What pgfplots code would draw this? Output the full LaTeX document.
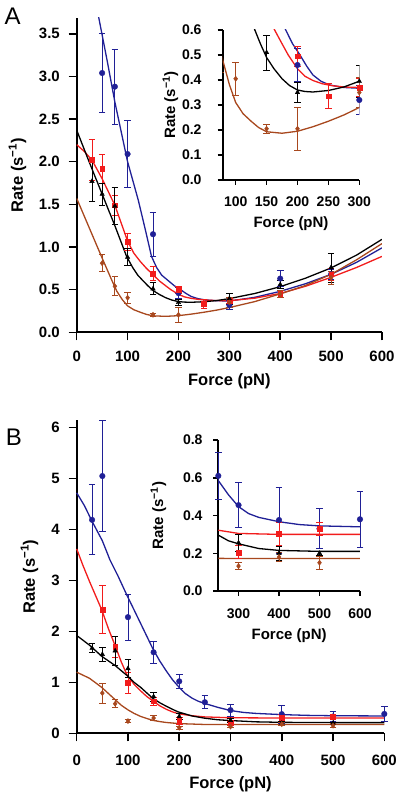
\documentclass[border=0pt]{standalone}
\usepackage{fontspec}
\setmainfont{Liberation Sans}
\usepackage{pgfplots}
\usepackage{pgfplotstable}
\pgfplotsset{compat=1.18}
\definecolor{cblue}{RGB}{32,32,150}
\definecolor{cred}{RGB}{242,28,28}
\definecolor{cbrown}{RGB}{168,72,30}

% ---------- Panel A data ----------
\pgfplotstableread{
F R E
50 3.04 0.46
75 2.88 0.44
100 2.09 0.39
150 1.15 0.26
200 0.46 0.065
300 0.32 0.057
400 0.63 0.09
500 0.68 0.06
}\Ablue
\pgfplotstableread{
F R E
30 2.02 0.245
50 1.92 0.17
75 1.49 0.12
100 1.06 0.10
150 0.69 0.085
200 0.495 0.04
250 0.335 0.05
300 0.37 0.035
400 0.45 0.04
500 0.68 0.07
}\Ared
\pgfplotstableread{
F R E
30 1.77 0.24
50 1.62 0.13
75 1.48 0.22
100 0.88 0.10
150 0.51 0.07
200 0.35 0.04
300 0.395 0.065
400 0.56 0.05
500 0.76 0.17
}\Ablack
\pgfplotstableread{
F R E
50 0.81 0.10
75 0.54 0.11
100 0.405 0.065
150 0.205 0.017
200 0.205 0.085
300 0.35 0.06
400 0.45 0.04
500 0.64 0.075
}\Abrown
% fitted curves, panel A
\pgfplotstableread{
F R
35 3.94
43 3.70
60 3.18
75 2.70
100 2.00
121 1.55
135 1.20
147 0.89
157 0.76
167 0.67
181 0.60
192 0.545
204 0.50
215 0.455
225 0.42
238 0.395
252 0.38
275 0.37
300 0.367
350 0.41
400 0.48
450 0.57
500 0.68
550 0.82
600 0.99
}\Afitblue
\pgfplotstableread{
F R
0 2.20
15 2.12
30 2.02
50 1.80
75 1.49
100 1.07
112 0.93
125 0.83
137 0.75
150 0.675
163 0.60
175 0.545
185 0.50
200 0.445
212 0.415
225 0.398
240 0.385
257 0.377
275 0.372
300 0.37
350 0.40
400 0.455
450 0.54
500 0.645
550 0.76
600 0.89
}\Afitred
\pgfplotstableread{
F R
0 2.37
25 1.99
50 1.62
75 1.25
98 0.89
110 0.76
120 0.67
131 0.60
140 0.545
150 0.49
162 0.445
175 0.405
187 0.378
200 0.36
212 0.354
225 0.352
250 0.358
275 0.372
300 0.395
350 0.455
400 0.535
450 0.635
500 0.755
550 0.905
600 1.09
}\Afitblack
\pgfplotstableread{
F R
0 1.57
25 1.22
50 0.87
69 0.61
79 0.48
90 0.38
100 0.31
112 0.265
125 0.235
137 0.21
150 0.193
175 0.187
200 0.195
225 0.213
250 0.235
275 0.26
300 0.29
350 0.36
400 0.45
450 0.55
500 0.68
550 0.85
600 1.04
}\Afitbrown

% ---------- Panel B data ----------
\pgfplotstableread{
F R E
30 4.19 0.685
50 5.05 1.09
100 2.28 0.45
150 1.59 0.22
200 1.02 0.145
250 0.61 0.125
300 0.455 0.12
400 0.376 0.175
500 0.33 0.105
600 0.38 0.15
}\Bblue
\pgfplotstableread{
F R E
50 2.43 0.465
75 1.70 0.205
100 0.99 0.21
150 0.63 0.075
200 0.24 0.07
300 0.205 0.035
400 0.302 0.06
500 0.33 0.035
}\Bred
\pgfplotstableread{
F R E
30 1.67 0.09
50 1.55 0.14
75 1.62 0.29
100 1.27 0.17
150 0.72 0.09
200 0.33 0.05
300 0.255 0.045
400 0.20 0.037
500 0.20 0.012
}\Bblack
\pgfplotstableread{
F R E
50 0.79 0.195
75 0.58 0.08
100 0.24 0.03
150 0.30 0.045
200 0.11 0.03
300 0.132 0.02
400 0.18 0.025
500 0.15 0.035
}\Bbrown
\pgfplotstableread{
F R
0 4.72
15 4.47
29 4.18
50 3.78
65 3.40
80 3.10
97.5 2.72
112 2.42
125 2.15
137 1.90
148 1.67
162 1.42
175 1.22
187 1.05
200 0.90
212 0.78
225 0.69
237 0.63
250 0.585
275 0.51
300 0.447
325 0.41
350 0.39
400 0.367
450 0.352
500 0.345
600 0.34
}\Bfitblue
\pgfplotstableread{
F R
0 3.62
12 3.30
25 2.98
37 2.70
49 2.42
62 2.05
75 1.72
87 1.40
97.5 1.16
112 0.96
125 0.83
137 0.72
148 0.64
162 0.54
175 0.47
187 0.42
200 0.38
225 0.345
250 0.322
300 0.305
400 0.30
600 0.30
}\Bfitred
\pgfplotstableread{
F R
0 1.92
25 1.73
49 1.51
75 1.33
97.5 1.14
112 1.00
125 0.90
137 0.79
148 0.69
162 0.60
175 0.53
187 0.47
198 0.42
225 0.34
250 0.296
275 0.266
300 0.25
350 0.225
400 0.215
500 0.21
600 0.21
}\Bfitblack
\pgfplotstableread{
F R
0 1.20
25 1.08
49 0.90
62 0.78
75 0.66
87 0.55
100 0.46
112 0.39
125 0.33
137 0.29
148 0.255
162 0.23
175 0.212
200 0.19
250 0.173
300 0.172
600 0.172
}\Bfitbrown

\pgfplotsset{
  gp/.style={scale only axis, axis x line*=bottom, axis y line*=left,
    axis line style={-, line width=2pt},
    tick style={line width=1.5pt, black}, tick align=outside,
    major tick length=8pt,
    /pgf/number format/assume math mode=true,
    tick label style={font=\bfseries\fontsize{15}{15}\selectfont},
    label style={font=\bfseries\fontsize{16.5}{16.5}\selectfont},
  },
  ins/.style={gp, major tick length=5pt,
    tick label style={font=\bfseries\fontsize{14}{14}\selectfont},
    label style={font=\bfseries\fontsize{15}{15}\selectfont},
  },
  fit/.style={no marks, line width=1.3pt},
  pts/.style={only marks, mark options={solid},
    error bars/.cd, y dir=both, y explicit,
    error bar style={line width=0.9pt},
    error mark options={rotate=90, mark size=3.3pt, line width=0.9pt}},
  onedec/.style={/pgf/number format/fixed, /pgf/number format/fixed zerofill, /pgf/number format/precision=1},
}

\begin{document}
\begin{tikzpicture}
\useasboundingbox (0,0) rectangle (400pt,798pt);

% ===== Panel A main =====
\begin{axis}[gp, at={(76.7pt,465.7pt)}, anchor=south west,
  width=305.3pt, height=314.3pt,
  xmin=0, xmax=600, ymin=0, ymax=3.685,
  xtick={0,100,200,300,400,500,600},
  ytick={0,0.5,1,1.5,2,2.5,3,3.5},
  yticklabel style={onedec},
  every x tick label/.append style={anchor=center, yshift=-16.4pt},
  every y tick label/.append style={anchor=east, xshift=-5.4pt},
  xlabel={Force (pN)}, ylabel={Rate (s\textsuperscript{−1})},
  xlabel style={at={(axis description cs:0.5,-0.157)}, anchor=center},
  ylabel style={at={(axis description cs:-0.176,0.5)}, anchor=base},
  extra description/.code={\node[font=\fontsize{24}{24}\selectfont] at (-0.21,1.006) {A};},
]
\addplot[fit, color=cblue] table[x=F,y=R]{\Afitblue};
\addplot[fit, color=cred] table[x=F,y=R]{\Afitred};
\addplot[fit, color=black] table[x=F,y=R]{\Afitblack};
\addplot[fit, color=cbrown] table[x=F,y=R]{\Afitbrown};
\addplot[color=cblue, mark=*, mark size=2.8pt, pts] table[x=F,y=R,y error=E]{\Ablue};
\addplot[color=cred, mark=square*, mark size=2.4pt, pts] table[x=F,y=R,y error=E]{\Ared};
\addplot[color=black, mark=triangle*, mark size=2.6pt, pts] table[x=F,y=R,y error=E]{\Ablack};
\addplot[color=cbrown, mark=diamond*, mark size=2.6pt, pts] table[x=F,y=R,y error=E]{\Abrown};
\end{axis}

% ===== Panel A inset =====
\begin{axis}[ins, at={(222.7pt,618pt)}, anchor=south west,
  width=136.6pt, height=150pt,
  xmin=79, xmax=300, ymin=0, ymax=0.6,
  xtick={100,150,200,250,300},
  ytick={0,0.1,0.2,0.3,0.4,0.5,0.6},
  yticklabel style={onedec},
  every x tick label/.append style={anchor=center, yshift=-16.7pt},
  every y tick label/.append style={anchor=east, xshift=-12.7pt},
  xlabel={Force (pN)}, ylabel={Rate (s\textsuperscript{−1})},
  xlabel style={at={(axis description cs:0.5,-0.289)}, anchor=center},
  ylabel style={at={(axis description cs:-0.349,0.5)}, anchor=base},
]
\addplot[fit, color=cblue] table[x=F,y=R]{\Afitblue};
\addplot[fit, color=cred] table[x=F,y=R]{\Afitred};
\addplot[fit, color=black] table[x=F,y=R]{\Afitblack};
\addplot[fit, color=cbrown] table[x=F,y=R]{\Afitbrown};
\addplot[color=cblue, mark=*, mark size=2.8pt, pts] table[x=F,y=R,y error=E]{\Ablue};
\addplot[color=cred, mark=square*, mark size=2.4pt, pts] table[x=F,y=R,y error=E]{\Ared};
\addplot[color=black, mark=triangle*, mark size=2.6pt, pts] table[x=F,y=R,y error=E]{\Ablack};
\addplot[color=cbrown, mark=diamond*, mark size=2.6pt, pts] table[x=F,y=R,y error=E]{\Abrown};
\end{axis}

% ===== Panel B main =====
\begin{axis}[gp, at={(76.7pt,64.7pt)}, anchor=south west,
  width=307.6pt, height=313.3pt, clip=false,
  xmin=0, xmax=600, ymin=0, ymax=6.15,
  xtick={0,100,200,300,400,500,600},
  ytick={0,1,2,3,4,5,6},
  every x tick label/.append style={anchor=center, yshift=-18.7pt},
  every y tick label/.append style={anchor=east, xshift=-5.4pt},
  xlabel={Force (pN)}, ylabel={Rate (s\textsuperscript{−1})},
  xlabel style={at={(axis description cs:0.5,-0.163)}, anchor=center},
  ylabel style={at={(axis description cs:-0.1356,0.5)}, anchor=base},
  extra description/.code={\node[font=\fontsize{24}{24}\selectfont] at (-0.204,0.946) {B};},
]
\addplot[fit, color=cblue] table[x=F,y=R]{\Bfitblue};
\addplot[fit, color=cred] table[x=F,y=R]{\Bfitred};
\addplot[fit, color=black] table[x=F,y=R]{\Bfitblack};
\addplot[fit, color=cbrown] table[x=F,y=R]{\Bfitbrown};
\addplot[color=cblue, mark=*, mark size=2.8pt, pts] table[x=F,y=R,y error=E]{\Bblue};
\addplot[color=cred, mark=square*, mark size=2.4pt, pts] table[x=F,y=R,y error=E]{\Bred};
\addplot[color=black, mark=triangle*, mark size=2.6pt, pts] table[x=F,y=R,y error=E]{\Bblack};
\addplot[color=cbrown, mark=diamond*, mark size=2.6pt, pts] table[x=F,y=R,y error=E]{\Bbrown};
\end{axis}

% ===== Panel B inset =====
\begin{axis}[ins, at={(218.3pt,207pt)}, anchor=south west,
  width=141.7pt, height=151pt, clip=false,
  xmin=250, xmax=600, ymin=0, ymax=0.8,
  xtick={300,400,500,600},
  ytick={0,0.2,0.4,0.6,0.8},
  yticklabel style={onedec},
  every x tick label/.append style={anchor=center, yshift=-17.3pt},
  every y tick label/.append style={anchor=east, xshift=-7.3pt},
  xlabel={Force (pN)}, ylabel={Rate (s\textsuperscript{−1})},
  xlabel style={at={(axis description cs:0.5,-0.296)}, anchor=center},
  ylabel style={at={(axis description cs:-0.39,0.5)}, anchor=base},
  restrict x to domain=250:600,
]
\addplot[fit, color=cblue] table[x=F,y=R]{\Bfitblue};
\addplot[fit, color=cred] table[x=F,y=R]{\Bfitred};
\addplot[fit, color=black] table[x=F,y=R]{\Bfitblack};
\addplot[fit, color=cbrown] table[x=F,y=R]{\Bfitbrown};
\addplot[color=cblue, mark=*, mark size=2.8pt, pts] table[x=F,y=R,y error=E]{\Bblue};
\addplot[color=cred, mark=square*, mark size=2.4pt, pts] table[x=F,y=R,y error=E]{\Bred};
\addplot[color=black, mark=triangle*, mark size=2.6pt, pts] table[x=F,y=R,y error=E]{\Bblack};
\addplot[color=cbrown, mark=diamond*, mark size=2.6pt, pts] table[x=F,y=R,y error=E]{\Bbrown};
\end{axis}
\end{tikzpicture}
\end{document}
